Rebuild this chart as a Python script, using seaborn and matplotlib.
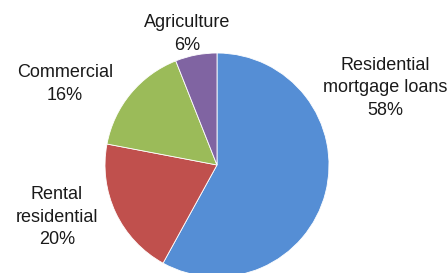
import matplotlib
matplotlib.use("Agg")
import matplotlib.pyplot as plt
import seaborn as sns

categories = ["Residential\nmortgage loans", "Rental\nresidential", "Commercial", "Agriculture"]
shares = [58, 20, 16, 6]
colors = ["#558ED5", "#C0504D", "#9BBB59", "#8064A2"]

sns.set_theme(style="white")
plt.rcParams["font.family"] = ["Liberation Sans", "DejaVu Sans"]

W, H = 448, 273
fig = plt.figure(figsize=(W / 100, H / 100), dpi=100)
ax = fig.add_axes([0, 0, 1, 1])

cx, cy, r = 217, 165, 112
wedges, _ = ax.pie(shares, colors=colors, startangle=90, counterclock=False,
                   radius=1.0, wedgeprops=dict(edgecolor="white", linewidth=0.6))

ax.set_xlim(-cx / r, (W - cx) / r)
ax.set_ylim(-(H - cy) / r, cy / r)
ax.set_aspect("auto")
ax.axis("off")

label_pos = [(385, 88), (57, 217), (65, 84), (187, 34)]
for cat, val, (px, py) in zip(categories, shares, label_pos):
    ax.text((px - cx) / r, (cy - py) / r, f"{cat}\n{val}%", ha="center", va="center",
            fontsize=13, color="#1a1a1a", linespacing=1.42)

fig.savefig("out.png", dpi=100, facecolor="white")
